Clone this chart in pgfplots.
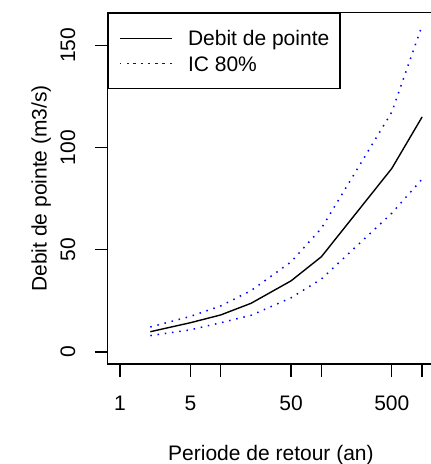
\documentclass[border=0pt]{standalone}
\usepackage{pgfplots}
\pgfplotsset{compat=1.18}
\usepackage{fontspec}
\setmainfont{Liberation Sans}
\newcommand{\rf}{\fontsize{21bp}{25bp}\selectfont}
\definecolor{rblue}{RGB}{0,0,255}
\begin{document}
\begin{tikzpicture}
\begin{axis}[
  name=ax,
  scale only axis,
  width=326.5bp, height=351.3bp,
  xmode=log, log basis x=10,
  xmin=0.755, xmax=1318,
  ymin=-5.9, ymax=166.0,
  axis line style={line width=1.3bp},
  every tick/.style={line width=1.3bp, black},
  tick align=outside,
  major tick length=13bp,
  xtick pos=bottom, ytick pos=left,
  xtick={1,5,10,50,100,500,1000},
  xticklabels={1,5,,50,,500,},
  minor xtick={},
  ytick={0,50,100,150},
  /pgf/number format/assume math mode=true,
  xticklabel style={font=\rf, anchor=base, yshift=-33.7bp, inner sep=0pt},
  yticklabel style={font=\rf, rotate=90, anchor=base, yshift=19.7bp, inner sep=0pt},
  every axis x label/.style={at={([yshift=-96bp]axis description cs:0.5,0)}, anchor=base, font=\rf, inner sep=0pt},
  every axis y label/.style={at={([xshift=-61bp]axis description cs:0,0.5)}, anchor=base, rotate=90, font=\rf, inner sep=0pt},
  xlabel={Periode de retour (an)},
  ylabel={Debit de pointe (m3/s)},
  legend cell align=left,
  legend image code/.code={\path (0bp,0bp) -- (52.5bp,0bp); \draw[#1] (13.5bp,0bp) -- (52.5bp,0bp);},
  legend style={at={(axis description cs:0,1)}, anchor=north west, draw=black, line width=1.3bp, fill=white,
    inner xsep=10.7bp, inner ysep=17.5bp, /tikz/row sep=10.3bp, /tikz/column sep=15bp,
    nodes={inner sep=0pt, text height=15bp, text depth=0pt, font=\rf}},
]
\addplot[black, line width=1.4bp, line join=round] coordinates {
 (2,9.9) (5,14.3) (10,18.1) (20,23.8) (50,34.8) (100,46.6) (500,89.8) (1000,115)};
\addlegendentry{Debit de pointe}
\addplot[rblue, line width=1.5bp, dash pattern=on 1.5bp off 5.8bp] coordinates {
 (2,12.2) (5,17.4) (10,22.5) (20,30) (50,44.1) (100,60.5) (500,117.4) (1000,159.8)};
\addlegendentry{IC 80\%}
\addplot[rblue, line width=1.5bp, dash pattern=on 1.5bp off 5.8bp, forget plot] coordinates {
 (2,8) (5,10.8) (10,14.3) (20,17.9) (50,26.5) (100,35.7) (500,67.9) (1000,84.6)};
\end{axis}
\pgfresetboundingbox
\useasboundingbox ([xshift=-107.7bp,yshift=-100bp]ax.south west) rectangle ([xshift=323.3bp,yshift=364bp]ax.south west);
\end{tikzpicture}
\end{document}
